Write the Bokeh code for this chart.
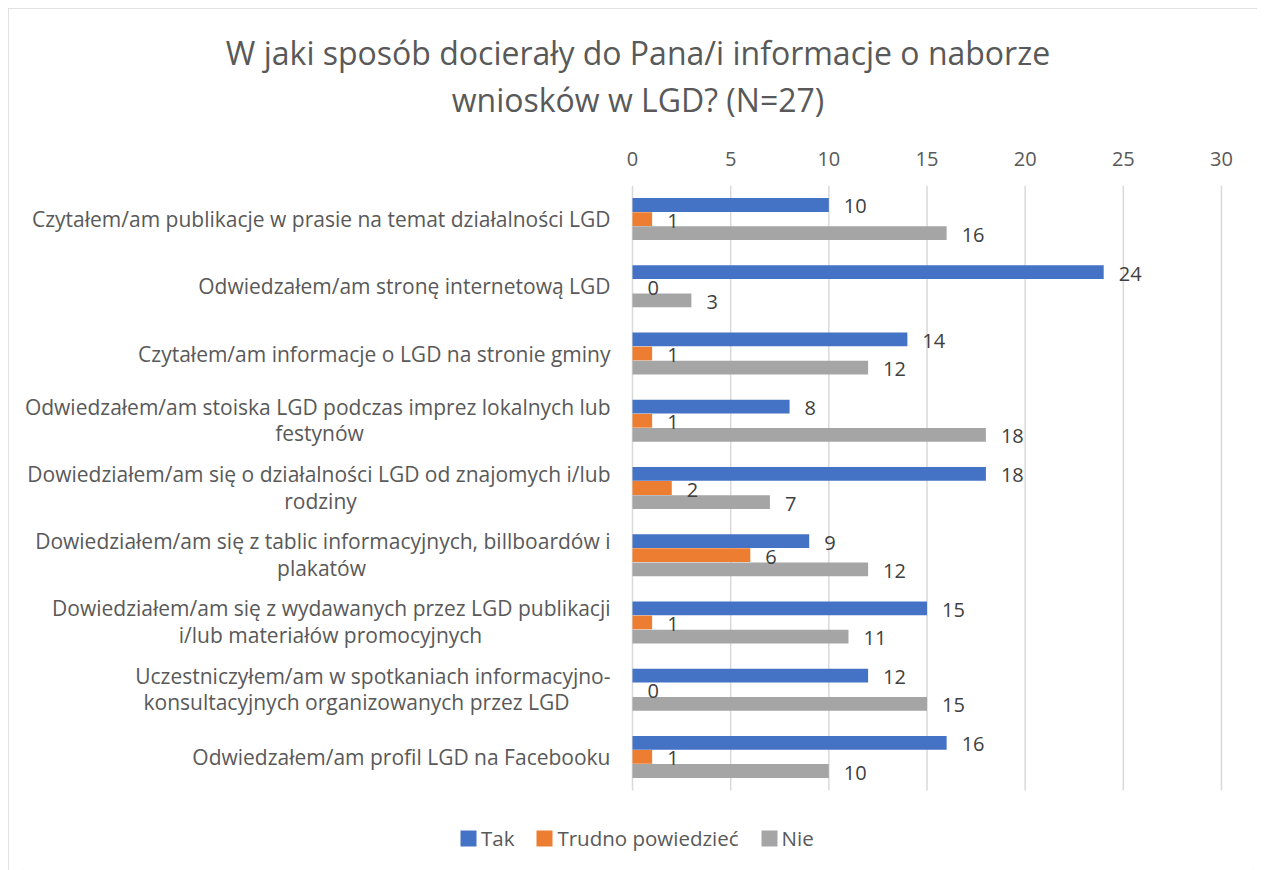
from bokeh.plotting import figure
from bokeh.models import (Range1d, FixedTicker, ColumnDataSource, Title,
                          Legend, LegendItem)
from bokeh.core.properties import value
from bokeh.embed import file_html
from bokeh.resources import INLINE

# ---------------- data ----------------
categories = [
    "Czytałem/am publikacje w prasie na temat działalności LGD",
    "Odwiedzałem/am stronę internetową LGD",
    "Czytałem/am informacje o LGD na stronie gminy",
    "Odwiedzałem/am stoiska LGD podczas imprez lokalnych lub\nfestynów",
    "Dowiedziałem/am się o działalności LGD od znajomych i/lub\nrodziny",
    "Dowiedziałem/am się z tablic informacyjnych, billboardów i\nplakatów",
    "Dowiedziałem/am się z wydawanych przez LGD publikacji\ni/lub materiałów promocyjnych",
    "Uczestniczyłem/am w spotkaniach informacyjno-\nkonsultacyjnych organizowanych przez LGD",
    "Odwiedzałem/am profil LGD na Facebooku",
]
tak = [10, 24, 14, 8, 18, 9, 15, 12, 16]
trudno = [1, 0, 1, 1, 2, 6, 1, 0, 1]
nie = [16, 3, 12, 18, 7, 12, 11, 15, 10]
series_names = ["Tak", "Trudno powiedzieć", "Nie"]
x_ticks = [0, 5, 10, 15, 20, 25, 30]
title_lines = ["W jaki sposób docierały do Pana/i informacje o naborze",
               "wniosków w LGD? (N=27)"]

# ---------------- style ----------------
FONT = "Open Sans"
C_TAK, C_TR, C_NIE = "#4472C4", "#ED7D31", "#A5A5A5"
TXT = "#595959"
LBL = "#404040"
BAR_H = 0.205
DODGE = 0.21
# widths (px) of first line of wrapped labels, used to centre second line
first_line_w = [0, 0, 0, 582, 580, 578, 560, 508, 0]
LABEL_PAD = 22

n = len(categories)
ypos = [i + 0.5 for i in range(n)]
line1, line2, y_off1, y_off2, x_off2 = [], [], [], [], []
for i, c in enumerate(categories):
    parts = c.split("\n")
    line1.append(parts[0])
    if len(parts) > 1:
        line2.append(parts[1])
        y_off1.append(-14)
        y_off2.append(12.5)
        x_off2.append(-LABEL_PAD - first_line_w[i] / 2)
    else:
        line2.append("")
        y_off1.append(0)
        y_off2.append(0)
        x_off2.append(-LABEL_PAD)

src = ColumnDataSource(dict(
    y_tak=[y - DODGE for y in ypos], y_tr=ypos, y_nie=[y + DODGE for y in ypos],
    y=ypos, tak=tak, trudno=trudno, nie=nie,
    tak_s=[str(v) for v in tak], trudno_s=[str(v) for v in trudno],
    nie_s=[str(v) for v in nie],
    line1=line1, line2=line2, y_off1=y_off1, y_off2=y_off2, x_off2=x_off2,
    zero=[0] * n))

grid_src = ColumnDataSource(dict(x=x_ticks, y0=[0] * len(x_ticks),
                                 y1=[n] * len(x_ticks)))

p = figure(width=1249, height=862,
           x_range=Range1d(-31.07, 31.63),
           y_range=Range1d(10.19, 0),
           x_axis_location="above",
           output_backend="svg", toolbar_location=None,
           min_border_left=14, min_border_right=4,
           min_border_top=177, min_border_bottom=0)
p.styles = {"margin-left": "8px", "margin-top": "8px",
            "outline": "1px solid #d9d9d9", "outline-offset": "-1px"}
p.outline_line_color = None
p.yaxis.visible = False
p.ygrid.visible = False
p.xgrid.visible = False

ticker = FixedTicker(ticks=x_ticks)
xa = p.xaxis[0]
xa.ticker = ticker
xa.axis_line_color = None
xa.major_tick_line_color = None
xa.minor_tick_line_color = None
xa.major_label_text_font = FONT
xa.major_label_text_font_size = "20px"
xa.major_label_text_color = TXT
xa.major_label_standoff = 14

p.segment(x0="x", x1="x", y0="y0", y1="y1", source=grid_src,
          line_color="#d9d9d9", line_width=1.5)

r1 = p.hbar(y="y_tak", right="tak", left=0, height=BAR_H,
            color=C_TAK, line_color=None, source=src)
r2 = p.hbar(y="y_tr", right="trudno", left=0, height=BAR_H,
            color=C_TR, line_color=None, source=src)
r3 = p.hbar(y="y_nie", right="nie", left=0, height=BAR_H,
            color=C_NIE, line_color=None, source=src)

for col, ycol in (("tak", "y_tak"), ("trudno", "y_tr"), ("nie", "y_nie")):
    p.text(x=col, y=ycol, text=col + "_s", source=src,
           x_offset=15, y_offset=1.5, text_align="left", text_baseline="middle",
           text_font=value(FONT), text_font_size="20px", text_color=LBL)

p.text(x="zero", y="y", text="line1", source=src, x_offset=-LABEL_PAD, y_offset="y_off1",
       text_align="right", text_baseline="middle", text_font=value(FONT),
       text_font_size="21px", text_color=TXT)
p.text(x="zero", y="y", text="line2", source=src, x_offset="x_off2", y_offset="y_off2",
       text_align="center", text_baseline="middle", text_font=value(FONT),
       text_font_size="21px", text_color=TXT)

legend = Legend(items=[LegendItem(label=series_names[0], renderers=[r1]),
                       LegendItem(label=series_names[1], renderers=[r2]),
                       LegendItem(label=series_names[2], renderers=[r3])],
                orientation="horizontal", location=(436, 18),
                glyph_width=20, glyph_height=20, label_standoff=3, spacing=20,
                padding=0, margin=0, border_line_color=None,
                label_text_font=FONT, label_text_font_size="20.5px",
                label_text_color=TXT, background_fill_alpha=0)
p.add_layout(legend, "center")

# spacer between the axis and the title lines
p.add_layout(Title(text=" ", text_font_size="12px", standoff=10), "above")
p.add_layout(Title(text=title_lines[1], align="center", standoff=4,
                   text_font=FONT, text_font_size="32px", text_font_style="normal",
                   text_color=TXT), "above")
p.add_layout(Title(text=title_lines[0], align="center", standoff=0,
                   text_font=FONT, text_font_size="32px", text_font_style="normal",
                   text_color=TXT), "above")

open("out.html", "w").write(file_html(p, INLINE))
